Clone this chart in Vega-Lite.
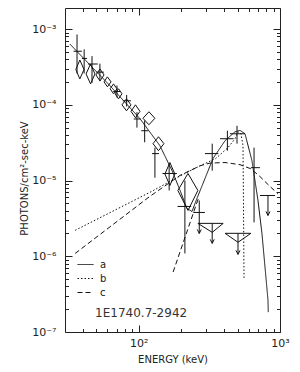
{
  "$schema": "https://vega.github.io/schema/vega-lite/v6.json",
  "autosize": "none",
  "padding": {"left": 65, "top": 8, "right": 20, "bottom": 40},
  "width": 215,
  "height": 324,
  "background": "white",
  "config": {
    "view": {"stroke": "#222", "strokeWidth": 1},
    "font": "DejaVu Sans",
    "axis": {"grid": false, "domain": false, "tickColor": "#222", "tickWidth": 1, "labelColor": "#222", "titleColor": "#222", "labelFont": "DejaVu Sans", "titleFont": "DejaVu Sans", "labelFontSize": 11, "titleFontSize": 10, "titleFontWeight": "normal", "labelOverlap": false, "labelFlush": false},
    "legend": {"labelFont": "DejaVu Sans", "labelFontSize": 10, "labelColor": "#222"}
  },
  "datasets": {
    "curves": [
      {"m": "a", "s": "a", "e": 32.5, "f": 6.35e-4},
      {"m": "a", "s": "a", "e": 62.6, "f": 1.78e-4},
      {"m": "a", "s": "a", "e": 102, "f": 6.55e-5},
      {"m": "a", "s": "a", "e": 141, "f": 2.89e-5},
      {"m": "a", "s": "a", "e": 172, "f": 1.35e-5},
      {"m": "a", "s": "a", "e": 196, "f": 7.4e-6},
      {"m": "a", "s": "a", "e": 219, "f": 4.3e-6},
      {"m": "a", "s": "a", "e": 238, "f": 3.9e-6},
      {"m": "a", "s": "a", "e": 258, "f": 5.8e-6},
      {"m": "a", "s": "a", "e": 294, "f": 1.06e-5},
      {"m": "a", "s": "a", "e": 335, "f": 1.95e-5},
      {"m": "a", "s": "a", "e": 408, "f": 3.36e-5},
      {"m": "a", "s": "a", "e": 480, "f": 4.4e-5},
      {"m": "a", "s": "a", "e": 521, "f": 4.6e-5},
      {"m": "a", "s": "a", "e": 565, "f": 4.15e-5},
      {"m": "a", "s": "a", "e": 633, "f": 1.83e-5},
      {"m": "a", "s": "a", "e": 698, "f": 5.5e-6},
      {"m": "a", "s": "a", "e": 745, "f": 2.0e-6},
      {"m": "a", "s": "a", "e": 822, "f": 2.64e-7},
      {"m": "a", "s": "a", "e": 826, "f": 1.83e-7},
      {"m": "b", "s": "b", "e": 35.4, "f": 2.2e-6},
      {"m": "b", "s": "b", "e": 120, "f": 7.0e-6},
      {"m": "b", "s": "b", "e": 196, "f": 1.15e-5},
      {"m": "b", "s": "b", "e": 272, "f": 1.57e-5},
      {"m": "b", "s": "b", "e": 350, "f": 1.95e-5},
      {"m": "b", "s": "b", "e": 428, "f": 2.72e-5},
      {"m": "b", "s": "b", "e": 480, "f": 3.57e-5},
      {"m": "b", "s": "b", "e": 504, "f": 4.4e-5},
      {"m": "b", "s": "b", "e": 529, "f": 4.15e-5},
      {"m": "b", "s": "b", "e": 547, "f": 2.89e-5},
      {"m": "b", "s": "b", "e": 551, "f": 5.5e-6},
      {"m": "b", "s": "b", "e": 556, "f": 5.1e-7},
      {"m": "c", "s": "c", "e": 35.4, "f": 1.09e-6},
      {"m": "c", "s": "c", "e": 120, "f": 6.2e-6},
      {"m": "c", "s": "c", "e": 196, "f": 1.17e-5},
      {"m": "c", "s": "c", "e": 272, "f": 1.57e-5},
      {"m": "c", "s": "c", "e": 319, "f": 1.7e-5},
      {"m": "c", "s": "c", "e": 408, "f": 1.73e-5},
      {"m": "c", "s": "c", "e": 521, "f": 1.62e-5},
      {"m": "c", "s": "c", "e": 622, "f": 1.43e-5},
      {"m": "c", "s": "c", "e": 721, "f": 1.13e-5},
      {"m": "c", "s": "c", "e": 853, "f": 8.3e-6},
      {"m": "c", "s": "c", "e": 967, "f": 6.7e-6},
      {"m": "c", "s": "c2", "e": 175, "f": 6.2e-7},
      {"m": "c", "s": "c2", "e": 264, "f": 5.8e-6}
    ],
    "pts": [
      {"k": "x", "e": 36.5, "e1": 34.5, "e2": 39.5, "f": 5.1e-4, "vlo": 2.6e-4, "vhi": 8.5e-4},
      {"k": "x", "e": 41, "e1": 39.5, "e2": 43, "f": 4.1e-4, "vlo": 2.6e-4, "vhi": 5.4e-4},
      {"k": "x", "e": 46.6, "e1": 43.6, "e2": 51.2, "f": 3.46e-4, "vlo": 1.95e-4, "vhi": 4.4e-4},
      {"k": "x", "e": 53, "e1": 50, "e2": 56.5, "f": 2.7e-4, "vlo": 2.05e-4, "vhi": 3.5e-4},
      {"k": "x", "e": 70, "e1": 66, "e2": 74, "f": 1.5e-4, "vlo": 1.25e-4, "vhi": 1.8e-4},
      {"k": "x", "e": 82, "e1": 77, "e2": 88, "f": 1.13e-4, "vlo": 9.5e-5, "vhi": 1.35e-4},
      {"k": "x", "e": 97, "e1": 92, "e2": 103, "f": 6.5e-5, "vlo": 5.0e-5, "vhi": 8.0e-5},
      {"k": "x", "e": 110, "e1": 104, "e2": 117, "f": 4.55e-5, "vlo": 3.2e-5, "vhi": 6.2e-5},
      {"k": "x", "e": 130, "e1": 124, "e2": 139, "f": 2.27e-5, "vlo": 1.09e-5, "vhi": 2.72e-5},
      {"k": "x", "e": 164, "e1": 147, "e2": 186, "f": 1.24e-5, "vlo": 7.4e-6, "vhi": 1.67e-5},
      {"k": "x", "e": 212, "e1": 188, "e2": 235, "f": 4.55e-6, "vlo": 1.09e-6, "vhi": 1.0e-5},
      {"k": "x", "e": 331, "e1": 294, "e2": 366, "f": 2.27e-5, "vlo": 1.35e-5, "vhi": 3.07e-5},
      {"k": "x", "e": 424, "e1": 376, "e2": 469, "f": 3.57e-5, "vlo": 2.48e-5, "vhi": 4.55e-5},
      {"k": "x", "e": 496, "e1": 442, "e2": 565, "f": 4.15e-5, "vlo": 3.07e-5, "vhi": 5.29e-5},
      {"k": "x", "e": 655, "e1": 622, "e2": 721, "f": 1.48e-5, "vlo": 2.8e-6, "vhi": 2.72e-5},
      {"k": "u", "e": 268, "e1": 243, "e2": 294, "f": 3.79e-6, "vlo": 2.0e-6, "vhi": 5.46e-6},
      {"k": "u", "e": 822, "e1": 721, "e2": 921, "f": 6.35e-6, "vlo": 3.46e-6, "vhi": 6.35e-6},
      {"k": "t", "e": 331, "e1": 262, "e2": 396, "f": 2.72e-6, "f1": 2.07e-6, "vlo": 1.48e-6, "vhi": 2.72e-6},
      {"k": "t", "e": 504, "e1": 408, "e2": 622, "f": 2.01e-6, "f1": 1.53e-6, "vlo": 1.06e-6, "vhi": 2.01e-6},
      {"k": "d", "e": 38.2, "e1": 35.8, "e2": 40.9, "f": 2.93e-4, "f1": 2.2e-4, "f2": 3.91e-4},
      {"k": "d", "e": 45.5, "e1": 42.3, "e2": 48.9, "f": 2.56e-4, "f1": 1.89e-4, "f2": 3.46e-4},
      {"k": "d", "e": 53.1, "e1": 49.7, "e2": 56.7, "f": 2.48e-4, "f1": 2.07e-4, "f2": 2.98e-4},
      {"k": "d", "e": 59.9, "e1": 56.7, "e2": 63.6, "f": 2.01e-4, "f1": 1.73e-4, "f2": 2.34e-4},
      {"k": "d", "e": 66.2, "e1": 62.6, "e2": 70.0, "f": 1.63e-4, "f1": 1.4e-4, "f2": 1.89e-4},
      {"k": "d", "e": 71.8, "e1": 67.9, "e2": 76.0, "f": 1.4e-4, "f1": 1.2e-4, "f2": 1.63e-4},
      {"k": "d", "e": 81.8, "e1": 76.0, "e2": 88.0, "f": 1.0e-4, "f1": 8.34e-5, "f2": 1.2e-4},
      {"k": "d", "e": 94.7, "e1": 88.0, "e2": 101.9, "f": 8.2e-5, "f1": 6.75e-5, "f2": 1.0e-4},
      {"k": "d", "e": 118, "e1": 107, "e2": 130, "f": 6.64e-5, "f1": 5.46e-5, "f2": 8.1e-5},
      {"k": "d", "e": 137.8, "e1": 126, "e2": 150.7, "f": 3.07e-5, "f1": 2.48e-5, "f2": 3.79e-5},
      {"k": "d", "e": 166, "e1": 153, "e2": 180, "f": 1.22e-5, "f1": 8.6e-6, "f2": 1.73e-5},
      {"k": "d", "e": 223, "e1": 189, "e2": 262, "f": 7.4e-6, "f1": 4.03e-6, "f2": 1.24e-5}
    ],
    "lbl": [{"e": 49, "f": 1.78e-7, "t": "1E1740.7-2942"}]
  },
  "resolve": {"axis": {"x": "independent", "y": "independent"}},
  "layer": [
    {
      "data": {"name": "curves"},
      "mark": {"type": "line", "stroke": "#111", "strokeWidth": 1},
      "encoding": {
        "x": {"field": "e", "type": "quantitative", "scale": {"type": "log", "domain": [30, 1000], "nice": false},
          "axis": {"orient": "bottom", "values": [100, 1000], "tickSize": -7, "labelPadding": 12, "labelExpr": "datum.value == 100 ? '10²' : (datum.value == 1000 ? '10³' : '')", "title": "ENERGY  (keV)", "titlePadding": 6}},
        "y": {"field": "f", "type": "quantitative", "scale": {"type": "log", "domain": [1e-7, 1.9e-3], "nice": false},
          "axis": {"orient": "left", "values": [1e-7, 1e-6, 1e-5, 1e-4, 1e-3], "tickSize": -7, "labelPadding": 16, "labelExpr": "['10⁻⁷','10⁻⁶','10⁻⁵','10⁻⁴','10⁻³'][round(log(datum.value)/LN10)+7]", "title": "PHOTONS/cm²-sec-keV", "titleX": -36, "titleY": 170}},
        "detail": {"field": "s", "type": "nominal"},
        "strokeDash": {"field": "m", "type": "nominal",
          "scale": {"domain": ["a", "b", "c"], "range": [[1, 0], [1.5, 2], [5, 3]]},
          "legend": {"orient": "none", "legendX": 12, "legendY": 248, "title": null, "symbolType": "stroke", "symbolSize": 256, "symbolStrokeWidth": 1, "symbolStrokeColor": "#111", "labelOffset": 6, "rowPadding": 0, "padding": 0}}
      }
    },
    {
      "data": {"name": "pts"},
      "transform": [{"filter": "datum.k != 'd'"}],
      "mark": {"type": "rule", "stroke": "#111", "strokeWidth": 1},
      "encoding": {
        "x": {"field": "e", "type": "quantitative", "scale": {"type": "log", "domain": [30, 1000], "nice": false},
          "axis": {"orient": "bottom", "values": [40, 50, 60, 70, 80, 90, 200, 300, 400, 500, 600, 700, 800, 900], "tickSize": -3.5, "labels": false, "title": null}},
        "y": {"field": "vlo", "type": "quantitative", "scale": {"type": "log", "domain": [1e-7, 1.9e-3], "nice": false},
          "axis": {"orient": "left", "values": [2e-7, 3e-7, 4e-7, 5e-7, 6e-7, 7e-7, 8e-7, 9e-7, 2e-6, 3e-6, 4e-6, 5e-6, 6e-6, 7e-6, 8e-6, 9e-6, 2e-5, 3e-5, 4e-5, 5e-5, 6e-5, 7e-5, 8e-5, 9e-5, 2e-4, 3e-4, 4e-4, 5e-4, 6e-4, 7e-4, 8e-4, 9e-4], "tickSize": -3.5, "labels": false, "title": null}},
        "y2": {"field": "vhi"}
      }
    },
    {
      "data": {"name": "pts"},
      "transform": [{"filter": "datum.k != 'd'"}],
      "mark": {"type": "rule", "stroke": "#111", "strokeWidth": 1},
      "encoding": {
        "x": {"field": "e1", "type": "quantitative", "scale": {"type": "log", "domain": [30, 1000], "nice": false},
          "axis": {"orient": "top", "values": [100, 1000], "tickSize": -7, "labels": false, "title": null}},
        "x2": {"field": "e2"},
        "y": {"field": "f", "type": "quantitative", "scale": {"type": "log", "domain": [1e-7, 1.9e-3], "nice": false},
          "axis": {"orient": "right", "values": [1e-7, 1e-6, 1e-5, 1e-4, 1e-3], "tickSize": -7, "labels": false, "title": null}}
      }
    },
    {
      "data": {"name": "pts"},
      "transform": [{"filter": "datum.k == 'd'"}],
      "mark": {"type": "rule", "stroke": "#111", "strokeWidth": 1},
      "encoding": {
        "x": {"field": "e1", "type": "quantitative", "scale": {"type": "log", "domain": [30, 1000], "nice": false},
          "axis": {"orient": "top", "values": [40, 50, 60, 70, 80, 90, 200, 300, 400, 500, 600, 700, 800, 900], "tickSize": -3.5, "labels": false, "title": null}},
        "y": {"field": "f", "type": "quantitative", "scale": {"type": "log", "domain": [1e-7, 1.9e-3], "nice": false},
          "axis": {"orient": "right", "values": [2e-7, 3e-7, 4e-7, 5e-7, 6e-7, 7e-7, 8e-7, 9e-7, 2e-6, 3e-6, 4e-6, 5e-6, 6e-6, 7e-6, 8e-6, 9e-6, 2e-5, 3e-5, 4e-5, 5e-5, 6e-5, 7e-5, 8e-5, 9e-5, 2e-4, 3e-4, 4e-4, 5e-4, 6e-4, 7e-4, 8e-4, 9e-4], "tickSize": -3.5, "labels": false, "title": null}},
        "x2": {"field": "e"},
        "y2": {"field": "f2"}
      }
    },
    {
      "data": {"name": "pts"},
      "transform": [{"filter": "datum.k == 'd'"}],
      "mark": {"type": "rule", "stroke": "#111", "strokeWidth": 1},
      "encoding": {
        "x": {"field": "e", "type": "quantitative", "scale": {"type": "log", "domain": [30, 1000], "nice": false}, "axis": null},
        "y": {"field": "f2", "type": "quantitative", "scale": {"type": "log", "domain": [1e-7, 1.9e-3], "nice": false}, "axis": null},
        "x2": {"field": "e2"},
        "y2": {"field": "f"}
      }
    },
    {
      "data": {"name": "pts"},
      "transform": [{"filter": "datum.k == 'd' || datum.k == 't'"}],
      "mark": {"type": "rule", "stroke": "#111", "strokeWidth": 1},
      "encoding": {
        "x": {"field": "e2", "type": "quantitative", "scale": {"type": "log", "domain": [30, 1000], "nice": false}, "axis": null},
        "y": {"field": "f", "type": "quantitative", "scale": {"type": "log", "domain": [1e-7, 1.9e-3], "nice": false}, "axis": null},
        "x2": {"field": "e"},
        "y2": {"field": "f1"}
      }
    },
    {
      "data": {"name": "pts"},
      "transform": [{"filter": "datum.k == 'd' || datum.k == 't'"}],
      "mark": {"type": "rule", "stroke": "#111", "strokeWidth": 1},
      "encoding": {
        "x": {"field": "e1", "type": "quantitative", "scale": {"type": "log", "domain": [30, 1000], "nice": false}, "axis": null},
        "y": {"field": "f", "type": "quantitative", "scale": {"type": "log", "domain": [1e-7, 1.9e-3], "nice": false}, "axis": null},
        "x2": {"field": "e"},
        "y2": {"field": "f1"}
      }
    },
    {
      "data": {"name": "pts"},
      "transform": [{"filter": "datum.k == 'u' || datum.k == 't'"}],
      "mark": {"type": "point", "shape": "M-1,-2L0,0L1,-2", "filled": false, "stroke": "#111", "strokeWidth": 1, "size": 16, "opacity": 1},
      "encoding": {
        "x": {"field": "e", "type": "quantitative", "scale": {"type": "log", "domain": [30, 1000], "nice": false}, "axis": null},
        "y": {"field": "vlo", "type": "quantitative", "scale": {"type": "log", "domain": [1e-7, 1.9e-3], "nice": false}, "axis": null}
      }
    },
    {
      "data": {"name": "lbl"},
      "mark": {"type": "text", "align": "left", "baseline": "middle", "font": "DejaVu Sans", "fontSize": 12, "fill": "#333"},
      "encoding": {
        "x": {"field": "e", "type": "quantitative", "scale": {"type": "log", "domain": [30, 1000], "nice": false}, "axis": null},
        "y": {"field": "f", "type": "quantitative", "scale": {"type": "log", "domain": [1e-7, 1.9e-3], "nice": false}, "axis": null},
        "text": {"field": "t"}
      }
    }
  ]
}
